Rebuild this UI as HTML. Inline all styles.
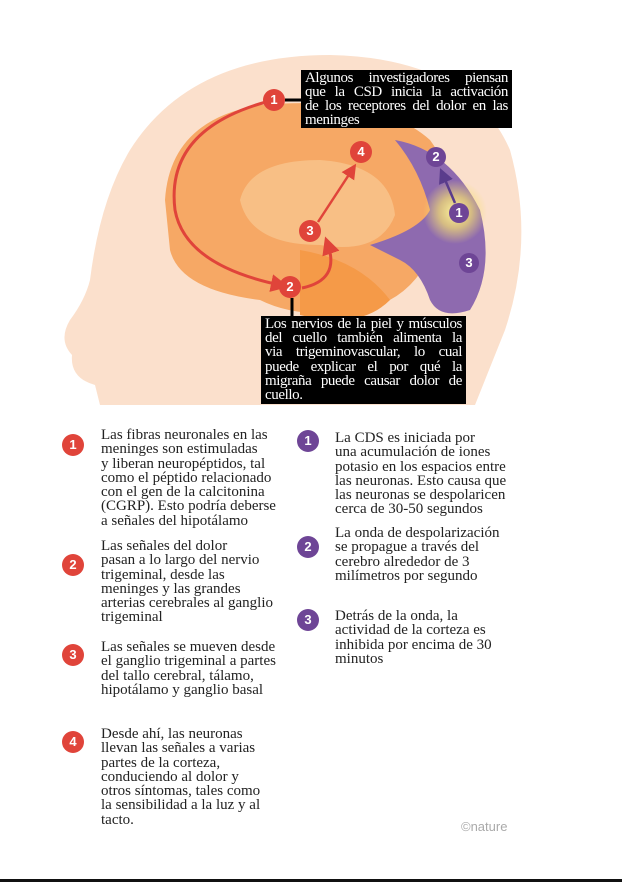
<!DOCTYPE html>
<html><head><meta charset="utf-8"><style>
html,body{margin:0;padding:0;background:#fff;}
body{width:622px;height:884px;position:relative;overflow:hidden;font-family:"Liberation Serif",serif;}
.t{position:absolute;font-size:15px;line-height:14.3px;color:#222;white-space:nowrap;}
.b{position:absolute;width:22px;height:22px;border-radius:50%;color:#fff;font-family:"Liberation Sans",sans-serif;font-weight:bold;font-size:13px;line-height:22px;text-align:center;}
.r{background:#e0443a;}.p{background:#6e4596;}
.box{position:absolute;background:#000;color:#fff;font-size:15px;line-height:14px;padding:1px 4px;}
.box div{text-align:justify;text-align-last:justify;white-space:nowrap;}
.box div.l{text-align-last:left;}
</style></head><body>
<svg width="622" height="420" style="position:absolute;left:0;top:0">
<defs>
<radialGradient id="g" cx="0.5" cy="0.5" r="0.5"><stop offset="0" stop-color="#fff6a0"/><stop offset="0.5" stop-color="#f5e070" stop-opacity="0.7"/><stop offset="1" stop-color="#f5e070" stop-opacity="0"/></radialGradient>
<marker id="a" markerWidth="6" markerHeight="6" refX="3" refY="3" orient="auto"><path d="M0,0L6,3L0,6z" fill="#e0443a"/></marker>
<marker id="ap" markerWidth="6" markerHeight="6" refX="3" refY="3" orient="auto"><path d="M0,0L6,3L0,6z" fill="#5a3c8c"/></marker>
</defs>
<path d="M100,405 L95,385 Q70,378 72,355 Q58,340 70,320 Q85,300 90,280 Q100,200 130,150 Q190,55 330,55 Q470,58 510,150 Q535,240 505,330 Q485,380 475,405 Z" fill="#fbe0cc"/>
<path d="M165,200 Q170,120 260,105 Q380,95 430,140 Q460,180 440,230 Q420,300 360,310 Q300,320 260,300 Q180,290 170,250 Z" fill="#f6a865"/>
<path d="M240,200 Q250,160 320,160 Q390,165 395,215 Q380,255 320,245 Q250,245 240,200Z" fill="#f8bf85"/>
<path d="M300,250 Q360,260 390,300 Q360,330 300,315 Z" fill="#f59a48"/>
<path d="M395,140 Q450,150 480,210 Q495,270 470,310 Q440,320 430,300 Q420,270 400,260 Q380,250 370,245 Q420,230 430,210 Q420,170 395,140Z" fill="#8e6aaf"/>
<circle cx="455" cy="212" r="32" fill="url(#g)"/>
<path d="M266,102 Q165,130 175,210 Q185,265 280,285" stroke="#e0443a" stroke-width="3" fill="none" marker-end="url(#a)"/>
<path d="M302,288 Q340,280 328,245" stroke="#e0443a" stroke-width="3" fill="none" marker-end="url(#a)"/>
<path d="M318,222 L352,170" stroke="#e0443a" stroke-width="2.5" fill="none" marker-end="url(#a)"/>
<path d="M455,203 L443,175" stroke="#5a3c8c" stroke-width="2.5" fill="none" marker-end="url(#ap)"/>
<line x1="285" y1="100" x2="301" y2="100" stroke="#000" stroke-width="3"/>
<line x1="292" y1="298" x2="292" y2="316" stroke="#000" stroke-width="3"/>
</svg>
<div class="b r" style="left:263px;top:89px">1</div>
<div class="b r" style="left:350px;top:141px">4</div>
<div class="b r" style="left:299px;top:220px">3</div>
<div class="b r" style="left:279px;top:276px">2</div>
<div class="b p" style="left:426px;top:147px;width:20px;height:20px;line-height:20px">2</div>
<div class="b p" style="left:449px;top:203px;width:20px;height:20px;line-height:20px">1</div>
<div class="b p" style="left:459px;top:253px;width:20px;height:20px;line-height:20px">3</div>
<div class="box" style="left:301px;top:70px;width:203px;height:56px;letter-spacing:-0.4px"><div>Algunos investigadores piensan</div><div>que la CSD inicia la activación</div><div>de los receptores del dolor en las</div><div class="l">meninges</div></div>
<div class="box" style="left:261px;top:316px;width:197px;height:86px;line-height:14.2px;letter-spacing:-0.4px"><div>Los nervios de la piel y músculos</div><div>del cuello también alimenta la</div><div>via trigeminovascular, lo cual</div><div>puede explicar el por qué la</div><div>migraña puede causar dolor de</div><div class="l">cuello.</div></div>

<div class="b r" style="left:62px;top:434px">1</div>
<div class="t" style="left:101px;top:428px">Las fibras neuronales en las<br>meninges son estimuladas<br>y liberan neuropéptidos, tal<br>como el péptido relacionado<br>con el gen de la calcitonina<br>(CGRP). Esto podría deberse<br>a señales del hipotálamo</div>
<div class="b r" style="left:62px;top:554px">2</div>
<div class="t" style="left:101px;top:539px">Las señales del dolor<br>pasan a lo largo del nervio<br>trigeminal, desde las<br>meninges y las grandes<br>arterias cerebrales al ganglio<br>trigeminal</div>
<div class="b r" style="left:62px;top:644px">3</div>
<div class="t" style="left:101px;top:640px">Las señales se mueven desde<br>el ganglio trigeminal a partes<br>del tallo cerebral, tálamo,<br>hipotálamo y ganglio basal</div>
<div class="b r" style="left:62px;top:731px">4</div>
<div class="t" style="left:101px;top:727px">Desde ahí, las neuronas<br>llevan las señales a varias<br>partes de la corteza,<br>conduciendo al dolor y<br>otros síntomas, tales como<br>la sensibilidad  a la luz y al<br>tacto.</div>

<div class="b p" style="left:297px;top:430px">1</div>
<div class="t" style="left:335px;top:431px">La CDS es iniciada por<br>una acumulación de iones<br>potasio en los espacios entre<br>las neuronas. Esto causa que<br>las neuronas se despolaricen<br>cerca de 30-50 segundos</div>
<div class="b p" style="left:297px;top:536px">2</div>
<div class="t" style="left:335px;top:526px">La onda de despolarización<br>se propague a través del<br>cerebro alrededor de 3<br>milímetros por segundo</div>
<div class="b p" style="left:297px;top:609px">3</div>
<div class="t" style="left:335px;top:609px">Detrás de la onda, la<br>actividad de la corteza es<br>inhibida por encima de 30<br>minutos</div>
<div class="t" style="left:461px;top:820px;color:#aaa;font-family:'Liberation Sans',sans-serif;font-size:13px">©nature</div>
<div style="position:absolute;left:0;top:879px;width:622px;height:3px;background:#111"></div>
</body></html>
